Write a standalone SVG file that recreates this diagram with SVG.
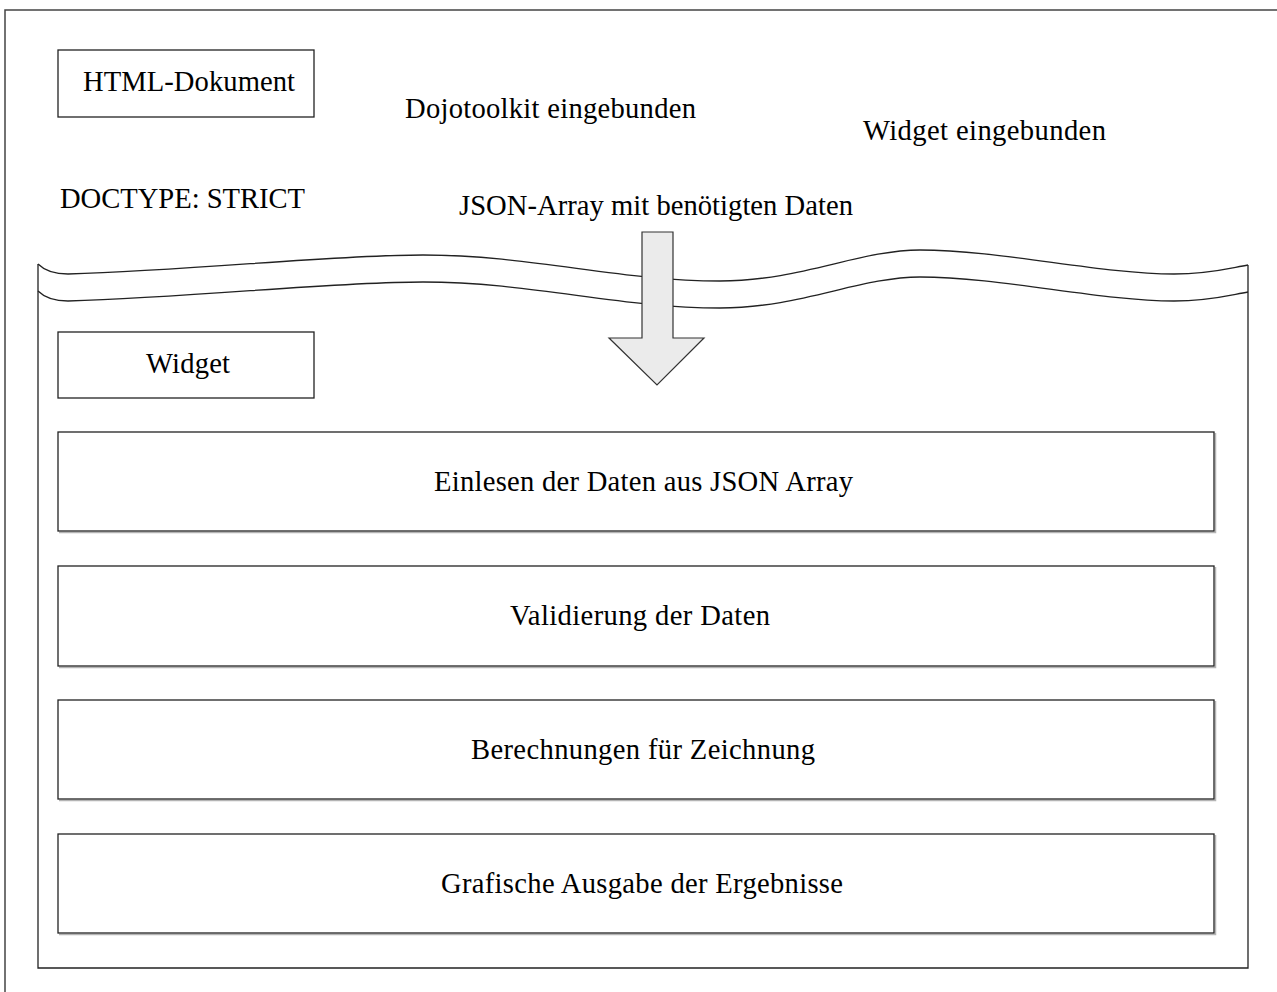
<svg xmlns="http://www.w3.org/2000/svg" width="1277" height="992" viewBox="0 0 1277 992">
<style>
.t{font-family:"Liberation Serif","Times New Roman",serif;font-size:28.6px;fill:#000}
.m{text-anchor:middle}
.ln{fill:none;stroke:#222;stroke-width:1.3}
.box{fill:#fff;stroke:#222;stroke-width:1.3}
.sh{fill:none;stroke:#b4b4b4;stroke-width:1.5}
</style>
<rect id="page" x="5" y="10" width="1300" height="1010" fill="none" stroke="#444" stroke-width="1.5"/>
<g id="html-dokument">
<rect class="box" x="58" y="50" width="256" height="67"/>
<text class="t" x="83" y="91" textLength="212" lengthAdjust="spacing">HTML-Dokument</text>
</g>
<g id="doctype"><text class="t" x="60" y="208" textLength="245" lengthAdjust="spacing">DOCTYPE: STRICT</text></g>
<g id="dojo"><text class="t" x="405" y="118" textLength="291" lengthAdjust="spacing">Dojotoolkit eingebunden</text></g>
<g id="widget-eingebunden"><text class="t" x="863" y="140" textLength="243" lengthAdjust="spacing">Widget eingebunden</text></g>
<g id="json-label"><text class="t" x="459" y="215" textLength="394" lengthAdjust="spacing">JSON-Array mit benötigten Daten</text></g>
<g id="widget-frame">
<path class="ln" d="M38,264 Q48,274 68,274 C200,270 330,255 423,255 C530,255 620,281 720,281 C800,281 860,250 920,250 C1000,250 1100,274 1174,274 C1210,274 1230,268 1248,265"/>
<path class="ln" d="M38,291 Q48,301 68,301 C200,297 330,282 423,282 C530,282 620,308 720,308 C800,308 860,277 920,277 C1000,277 1100,301 1174,301 C1210,301 1230,295 1248,292"/>
<path class="ln" d="M38,264 V968 H1248 V265"/>
</g>
<g id="widget">
<rect class="box" x="58" y="332" width="256" height="66"/>
<text class="t" x="146" y="373" textLength="84" lengthAdjust="spacing">Widget</text>
</g>
<g id="einlesen">
<path class="sh" d="M1215.5,433 V532.5 H59"/>
<rect class="box" x="58" y="432" width="1156" height="99"/>
<text class="t" x="434" y="491" textLength="419" lengthAdjust="spacing">Einlesen der Daten aus JSON Array</text>
</g>
<g id="validierung">
<path class="sh" d="M1215.5,567 V667.5 H59"/>
<rect class="box" x="58" y="566" width="1156" height="100"/>
<text class="t" x="510" y="625" textLength="260" lengthAdjust="spacing">Validierung der Daten</text>
</g>
<g id="berechnungen">
<path class="sh" d="M1215.5,701 V800.5 H59"/>
<rect class="box" x="58" y="700" width="1156" height="99"/>
<text class="t" x="471" y="759" textLength="344" lengthAdjust="spacing">Berechnungen für Zeichnung</text>
</g>
<g id="ausgabe">
<path class="sh" d="M1215.5,835 V934.5 H59"/>
<rect class="box" x="58" y="834" width="1156" height="99"/>
<text class="t" x="441" y="893" textLength="402" lengthAdjust="spacing">Grafische Ausgabe der Ergebnisse</text>
</g>
<g id="connectors">
<path d="M642,232 H673 V338 H704 L657,385 L609,338 H642 Z" fill="#ebebeb" stroke="#333" stroke-width="1.2"/>
</g>
</svg>
